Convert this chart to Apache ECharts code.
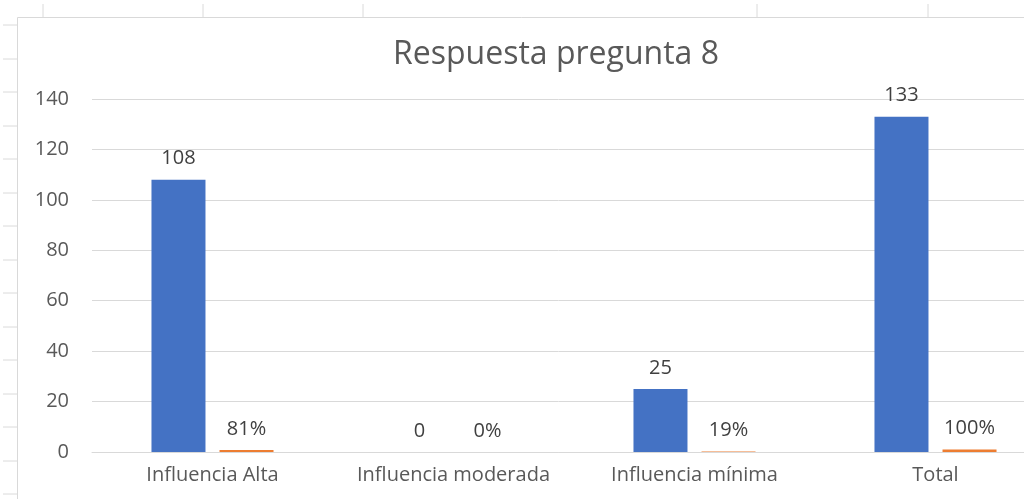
<!DOCTYPE html>
<html>
<head>
<meta charset="utf-8">
<script src="https://cdn.jsdelivr.net/npm/echarts@6/dist/echarts.min.js"></script>
<style>
  html, body { margin: 0; padding: 0; background: #fff; }
  #main { width: 1024px; height: 499px; }
</style>
</head>
<body>
<div id="main"></div>
<script>
var categories = ['Influencia Alta', 'Influencia moderada', 'Influencia mínima', 'Total'];
var counts = [108, 0, 25, 133];
var shares = [0.81, 0, 0.19, 1];
var yTicks = [0, 20, 40, 60, 80, 100, 120, 140];

// spreadsheet cell borders around the chart
var sheetCols = [43, 203, 363, 757, 928];
var sheetRows = [25, 59, 92, 126, 159, 193, 226, 260, 293, 327, 360, 394, 427, 461, 494];

var deco = [];
sheetCols.forEach(function (x) {
    deco.push({ type: 'line', shape: { x1: x, y1: 4, x2: x, y2: 17 }, style: { stroke: '#dadada', lineWidth: 1 } });
});
sheetRows.forEach(function (y) {
    deco.push({ type: 'line', shape: { x1: 3, y1: y, x2: 17, y2: y }, style: { stroke: '#dadada', lineWidth: 1 } });
});
deco.push({ type: 'rect', shape: { x: 17.5, y: 17.5, width: 1100, height: 600 }, style: { fill: 'none', stroke: '#d9d9d9', lineWidth: 1 }, z: -1 });

var font = '"Open Sans", "Liberation Sans", sans-serif';

var myChart = echarts.init(document.getElementById('main'));
myChart.setOption({
    animation: false,
    textStyle: { fontFamily: font },
    title: {
        text: 'Respuesta pregunta 8',
        left: 551,
        top: 34,
        textAlign: 'center',
        textStyle: { fontSize: 32, fontWeight: 'normal', color: '#595959', fontFamily: font }
    },
    graphic: deco,
    grid: { left: 92, top: 99, width: 964, height: 353, containLabel: false, outerBoundsMode: 'none' },
    xAxis: {
        type: 'category',
        data: categories,
        axisLine: { lineStyle: { color: '#d9d9d9' } },
        axisTick: { show: false },
        axisLabel: { color: '#595959', fontSize: 20, margin: 13, fontFamily: font, interval: 0, hideOverlap: false }
    },
    yAxis: {
        type: 'value',
        min: 0,
        max: 140,
        interval: 20,
        axisLine: { show: false },
        axisTick: { show: false },
        splitLine: { lineStyle: { color: '#d9d9d9' } },
        axisLabel: {
            color: '#595959', fontSize: 20, margin: 23, fontFamily: font,
            formatter: function (v) { return yTicks.indexOf(v) >= 0 ? String(v) : ''; }
        }
    },
    series: [
        {
            name: 'Cantidad',
            type: 'bar',
            data: counts,
            barWidth: 54,
            barGap: '26%',
            itemStyle: { color: '#4472C4' },
            label: { show: true, position: 'top', distance: 11, color: '#404040', fontSize: 20, fontFamily: font }
        },
        {
            name: 'Porcentaje',
            type: 'bar',
            data: shares,
            barWidth: 54,
            barGap: '26%',
            itemStyle: { color: '#ED7D31' },
            label: {
                show: true, position: 'top', distance: 11, color: '#404040', fontSize: 20, fontFamily: font,
                formatter: function (p) { return Math.round(p.value * 100) + '%'; }
            }
        }
    ]
});
window.addEventListener('resize', function () {
    myChart.resize();
});
</script>
</body>
</html>
